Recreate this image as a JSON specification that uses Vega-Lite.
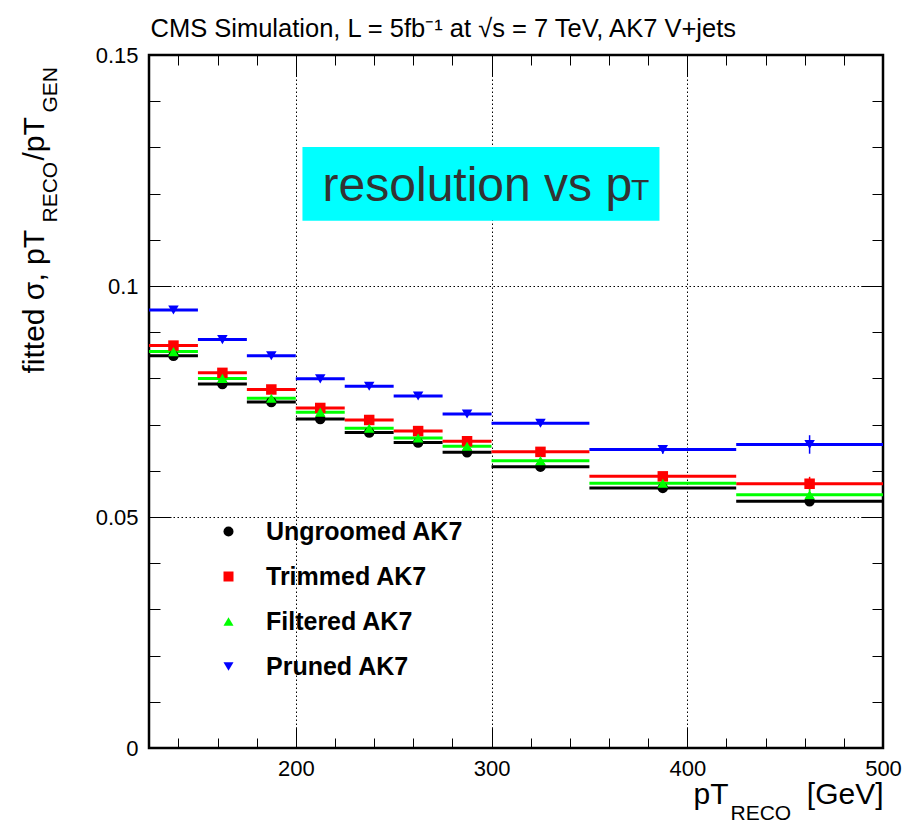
{
  "$schema": "https://vega.github.io/schema/vega-lite/v6.json",
  "width": 734,
  "height": 693,
  "autosize": {"type": "none"},
  "padding": {"left": 149, "top": 55, "right": 25, "bottom": 75},
  "background": "white",
  "config": {
    "view": {"stroke": "black", "strokeWidth": 2.5},
    "axis": {"grid": false, "domain": false, "labelFont": "Liberation Sans", "titleFont": "Liberation Sans", "labelColor": "black", "titleColor": "black", "tickColor": "black", "tickWidth": 1, "titleFontWeight": "normal", "labelFlush": false, "zindex": 1},
    "text": {"font": "Liberation Sans"}
  },
  "datasets": {
    "box": [{"x1": 203.4, "x2": 385.8, "y1": 0.1141, "y2": 0.1301}],
    "labelA": [{"x": 213.7, "y": 0.1183, "label": "resolution vs p"}],
    "labelB": [{"x": 371.3, "y": 0.1186, "label": "T"}],
    "res": [
      {"series": "Ungroomed AK7", "lo": 125, "hi": 150, "x": 137.5, "y": 0.0849, "err": 0.0003},
      {"series": "Ungroomed AK7", "lo": 150, "hi": 175, "x": 162.5, "y": 0.0788, "err": 0.0003},
      {"series": "Ungroomed AK7", "lo": 175, "hi": 200, "x": 187.5, "y": 0.0749, "err": 0.0003},
      {"series": "Ungroomed AK7", "lo": 200, "hi": 225, "x": 212.5, "y": 0.0712, "err": 0.0003},
      {"series": "Ungroomed AK7", "lo": 225, "hi": 250, "x": 237.5, "y": 0.0683, "err": 0.0003},
      {"series": "Ungroomed AK7", "lo": 250, "hi": 275, "x": 262.5, "y": 0.0661, "err": 0.0003},
      {"series": "Ungroomed AK7", "lo": 275, "hi": 300, "x": 287.5, "y": 0.0640, "err": 0.0003},
      {"series": "Ungroomed AK7", "lo": 300, "hi": 350, "x": 325, "y": 0.0609, "err": 0.0005},
      {"series": "Ungroomed AK7", "lo": 350, "hi": 425, "x": 387.5, "y": 0.0563, "err": 0.0007},
      {"series": "Ungroomed AK7", "lo": 425, "hi": 500, "x": 462.5, "y": 0.0534, "err": 0.001},
      {"series": "Trimmed AK7", "lo": 125, "hi": 150, "x": 137.5, "y": 0.0871, "err": 0.0003},
      {"series": "Trimmed AK7", "lo": 150, "hi": 175, "x": 162.5, "y": 0.0812, "err": 0.0003},
      {"series": "Trimmed AK7", "lo": 175, "hi": 200, "x": 187.5, "y": 0.0776, "err": 0.0003},
      {"series": "Trimmed AK7", "lo": 200, "hi": 225, "x": 212.5, "y": 0.0736, "err": 0.0003},
      {"series": "Trimmed AK7", "lo": 225, "hi": 250, "x": 237.5, "y": 0.0710, "err": 0.0003},
      {"series": "Trimmed AK7", "lo": 250, "hi": 275, "x": 262.5, "y": 0.0686, "err": 0.0003},
      {"series": "Trimmed AK7", "lo": 275, "hi": 300, "x": 287.5, "y": 0.0664, "err": 0.0003},
      {"series": "Trimmed AK7", "lo": 300, "hi": 350, "x": 325, "y": 0.0641, "err": 0.0005},
      {"series": "Trimmed AK7", "lo": 350, "hi": 425, "x": 387.5, "y": 0.0588, "err": 0.0007},
      {"series": "Trimmed AK7", "lo": 425, "hi": 500, "x": 462.5, "y": 0.0572, "err": 0.0015},
      {"series": "Filtered AK7", "lo": 125, "hi": 150, "x": 137.5, "y": 0.0858, "err": 0.0003},
      {"series": "Filtered AK7", "lo": 150, "hi": 175, "x": 162.5, "y": 0.0800, "err": 0.0003},
      {"series": "Filtered AK7", "lo": 175, "hi": 200, "x": 187.5, "y": 0.0757, "err": 0.0003},
      {"series": "Filtered AK7", "lo": 200, "hi": 225, "x": 212.5, "y": 0.0727, "err": 0.0003},
      {"series": "Filtered AK7", "lo": 225, "hi": 250, "x": 237.5, "y": 0.0692, "err": 0.0003},
      {"series": "Filtered AK7", "lo": 250, "hi": 275, "x": 262.5, "y": 0.0671, "err": 0.0003},
      {"series": "Filtered AK7", "lo": 275, "hi": 300, "x": 287.5, "y": 0.0653, "err": 0.0003},
      {"series": "Filtered AK7", "lo": 300, "hi": 350, "x": 325, "y": 0.0622, "err": 0.0005},
      {"series": "Filtered AK7", "lo": 350, "hi": 425, "x": 387.5, "y": 0.0573, "err": 0.0007},
      {"series": "Filtered AK7", "lo": 425, "hi": 500, "x": 462.5, "y": 0.0548, "err": 0.0012},
      {"series": "Pruned AK7", "lo": 125, "hi": 150, "x": 137.5, "y": 0.0948, "err": 0.0003},
      {"series": "Pruned AK7", "lo": 150, "hi": 175, "x": 162.5, "y": 0.0884, "err": 0.0003},
      {"series": "Pruned AK7", "lo": 175, "hi": 200, "x": 187.5, "y": 0.0849, "err": 0.0003},
      {"series": "Pruned AK7", "lo": 200, "hi": 225, "x": 212.5, "y": 0.0799, "err": 0.0003},
      {"series": "Pruned AK7", "lo": 225, "hi": 250, "x": 237.5, "y": 0.0783, "err": 0.0003},
      {"series": "Pruned AK7", "lo": 250, "hi": 275, "x": 262.5, "y": 0.0762, "err": 0.0003},
      {"series": "Pruned AK7", "lo": 275, "hi": 300, "x": 287.5, "y": 0.0723, "err": 0.0003},
      {"series": "Pruned AK7", "lo": 300, "hi": 350, "x": 325, "y": 0.0703, "err": 0.0005},
      {"series": "Pruned AK7", "lo": 350, "hi": 425, "x": 387.5, "y": 0.0646, "err": 0.0009},
      {"series": "Pruned AK7", "lo": 425, "hi": 500, "x": 462.5, "y": 0.0657, "err": 0.002}
    ]
  },
  "layer": [
    {
      "data": {"name": "box"},
      "mark": {"type": "rect", "color": "#00ffff"},
      "encoding": {
        "x": {"field": "x1", "type": "quantitative", "scale": {"domain": [125, 500], "nice": false, "zero": false},
          "axis": {"orient": "bottom", "values": [200, 300, 400, 500], "grid": true, "gridColor": "black", "gridDash": [1.5, 2.5], "gridWidth": 1, "gridOpacity": 1, "ticks": false, "labelFontSize": 22, "labelPadding": 10, "zindex": 0,
            "title": "pT", "titleFontSize": 30, "titleX": 544, "titleY": 55, "titleAlign": "left", "titleBaseline": "alphabetic"}},
        "x2": {"field": "x2"},
        "y": {"field": "y1", "type": "quantitative", "scale": {"domain": [0, 0.15], "nice": false, "zero": true},
          "axis": {"orient": "left", "values": [0, 0.05, 0.1, 0.15], "format": ".2~f", "grid": true, "gridColor": "black", "gridDash": [1.5, 2.5], "gridWidth": 1, "gridOpacity": 1, "ticks": false, "labelFontSize": 22, "labelPadding": 11, "zindex": 0,
            "title": "fitted σ, pT", "titleFontSize": 30, "titleX": -106, "titleY": 318, "titleAngle": 270, "titleAlign": "left", "titleBaseline": "alphabetic"}},
        "y2": {"field": "y2"}
      }
    },
    {
      "data": {"name": "res"},
      "mark": {"type": "rule", "strokeWidth": 3},
      "encoding": {
        "x": {"field": "lo", "type": "quantitative", "scale": {"domain": [125, 500], "nice": false, "zero": false},
          "axis": {"orient": "bottom", "values": [200, 300, 400, 500], "labels": false, "ticks": true, "tickSize": -21,
            "title": "RECO", "titleFontSize": 21, "titleX": 581, "titleY": 71, "titleAlign": "left", "titleBaseline": "alphabetic"}},
        "x2": {"field": "hi"},
        "y": {"field": "y", "type": "quantitative", "scale": {"domain": [0, 0.15], "nice": false, "zero": true},
          "axis": {"orient": "left", "values": [0, 0.05, 0.1, 0.15], "labels": false, "ticks": true, "tickSize": -22,
            "title": "RECO", "titleFontSize": 21, "titleX": -93, "titleY": 167, "titleAngle": 270, "titleAlign": "left", "titleBaseline": "alphabetic"}},
        "color": {"field": "series", "type": "nominal", "legend": null,
          "scale": {"domain": ["Ungroomed AK7", "Trimmed AK7", "Filtered AK7", "Pruned AK7"], "range": ["#000000", "#ff0000", "#00ff00", "#0000ff"]}}
      }
    },
    {
      "data": {"name": "res"},
      "mark": {"type": "errorbar", "thickness": 1.5},
      "encoding": {
        "x": {"field": "x", "type": "quantitative", "axis": null},
        "y": {"field": "y", "type": "quantitative", "axis": null},
        "yError": {"field": "err"},
        "color": {"field": "series", "type": "nominal", "legend": null}
      }
    },
    {
      "data": {"name": "res"},
      "mark": {"type": "point", "filled": true, "opacity": 1, "size": 110, "strokeWidth": 0},
      "encoding": {
        "x": {"field": "x", "type": "quantitative", "scale": {"domain": [125, 500], "nice": false, "zero": false},
          "axis": {"orient": "top", "values": [200, 300, 400, 500], "labels": false, "ticks": true, "tickSize": -21,
            "title": "CMS Simulation, L = 5fb⁻¹ at √s = 7 TeV, AK7 V+jets", "titleFontSize": 25.5, "titleX": 1, "titleY": -19, "titleAngle": 0, "titleAlign": "left", "titleBaseline": "alphabetic"}},
        "y": {"field": "y", "type": "quantitative", "scale": {"domain": [0, 0.15], "nice": false, "zero": true},
          "axis": {"orient": "right", "values": [0, 0.05, 0.1, 0.15], "labels": false, "ticks": true, "tickSize": -22,
            "title": "GEN", "titleFontSize": 21, "titleX": -827, "titleY": 57, "titleAngle": 270, "titleAlign": "left", "titleBaseline": "alphabetic"}},
        "color": {"field": "series", "type": "nominal",
          "legend": {"orient": "none", "legendX": 67, "legendY": 464, "title": null, "labelFont": "Liberation Sans", "labelFontSize": 25, "labelFontWeight": "bold", "labelColor": "black", "labelOffset": 25, "labelLimit": 400, "rowPadding": 19, "symbolSize": 100, "symbolStrokeWidth": 0, "padding": 0}},
        "shape": {"field": "series", "type": "nominal",
          "scale": {"domain": ["Ungroomed AK7", "Trimmed AK7", "Filtered AK7", "Pruned AK7"], "range": ["circle", "square", "triangle-up", "triangle-down"]},
          "legend": {"orient": "none", "legendX": 67, "legendY": 464, "title": null, "labelFont": "Liberation Sans", "labelFontSize": 25, "labelFontWeight": "bold", "labelColor": "black", "labelOffset": 25, "labelLimit": 400, "rowPadding": 19, "symbolSize": 100, "symbolStrokeWidth": 0, "padding": 0}}
      }
    },
    {
      "data": {"name": "labelA"},
      "mark": {"type": "text", "align": "left", "baseline": "alphabetic", "fontSize": 48, "color": "#333333", "font": "Liberation Sans"},
      "encoding": {
        "x": {"field": "x", "type": "quantitative", "scale": {"domain": [125, 500], "nice": false, "zero": false},
          "axis": {"orient": "bottom", "values": [140, 160, 180, 220, 240, 260, 280, 320, 340, 360, 380, 420, 440, 460, 480], "labels": false, "ticks": true, "tickSize": -10,
            "title": "[GeV]", "titleFontSize": 30, "titleX": 734, "titleY": 55, "titleAlign": "right", "titleBaseline": "alphabetic"}},
        "y": {"field": "y", "type": "quantitative", "scale": {"domain": [0, 0.15], "nice": false, "zero": true},
          "axis": {"orient": "left", "values": [0.01, 0.02, 0.03, 0.04, 0.06, 0.07, 0.08, 0.09, 0.11, 0.12, 0.13, 0.14], "labels": false, "ticks": true, "tickSize": -11,
            "title": "/pT", "titleFontSize": 30, "titleX": -106, "titleY": 105, "titleAngle": 270, "titleAlign": "left", "titleBaseline": "alphabetic"}},
        "text": {"field": "label"}
      }
    },
    {
      "data": {"name": "labelB"},
      "mark": {"type": "text", "align": "left", "baseline": "alphabetic", "fontSize": 30, "color": "#333333", "font": "Liberation Sans"},
      "encoding": {
        "x": {"field": "x", "type": "quantitative", "scale": {"domain": [125, 500], "nice": false, "zero": false},
          "axis": {"orient": "top", "values": [140, 160, 180, 220, 240, 260, 280, 320, 340, 360, 380, 420, 440, 460, 480], "labels": false, "ticks": true, "tickSize": -10, "title": null}},
        "y": {"field": "y", "type": "quantitative", "scale": {"domain": [0, 0.15], "nice": false, "zero": true},
          "axis": {"orient": "right", "values": [0.01, 0.02, 0.03, 0.04, 0.06, 0.07, 0.08, 0.09, 0.11, 0.12, 0.13, 0.14], "labels": false, "ticks": true, "tickSize": -11, "title": null}},
        "text": {"field": "label"}
      }
    }
  ],
  "resolve": {"axis": {"x": "independent", "y": "independent"}, "legend": {"color": "independent", "shape": "independent"}}
}
